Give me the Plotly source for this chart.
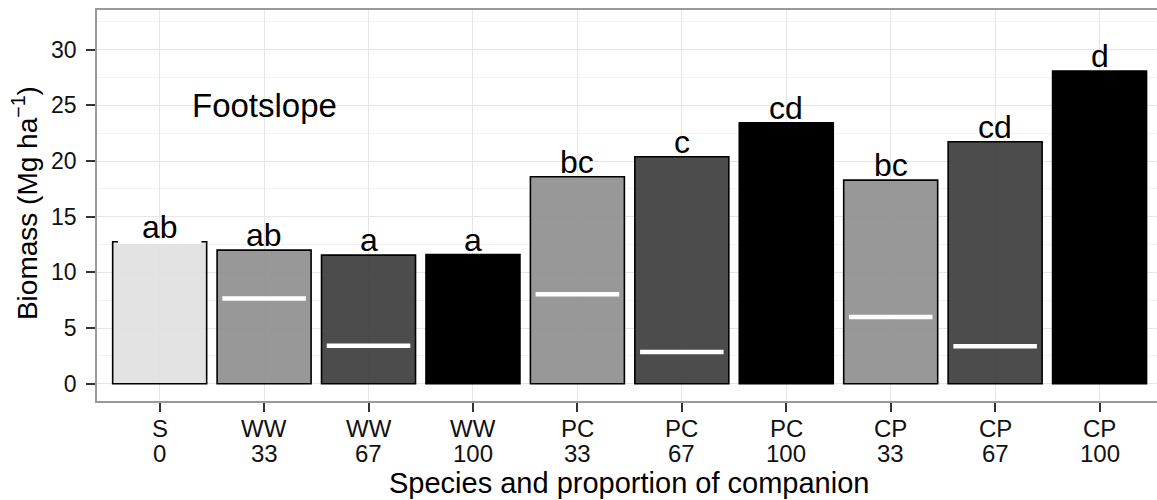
import plotly.graph_objects as go

# ---- data ----
species = ["S", "WW", "WW", "WW", "PC", "PC", "PC", "CP", "CP", "CP"]
proportion = [0, 33, 67, 100, 33, 67, 100, 33, 67, 100]
biomass = [12.75, 12.0, 11.55, 11.6, 18.58, 20.38, 23.43, 18.28, 21.73, 28.08]
sown_biomass = [12.75, 7.65, 3.4, None, 8.04, 2.86, None, 6.0, 3.37, None]
letters = ["ab", "ab", "a", "a", "bc", "c", "cd", "bc", "cd", "d"]
panel_label = "Footslope"
y_ticks = [0, 5, 10, 15, 20, 25, 30]

# ---- styles ----
fill_by_prop = {0: "rgba(224,224,224,0.9)", 33: "rgba(141,141,141,0.9)",
                67: "rgba(57,57,57,0.9)", 100: "rgba(0,0,0,1)"}
FONT = "Liberation Sans, Arial, sans-serif"
TICK_FONT = dict(family=FONT, size=23, color="#111111")
XTICK_FONT = dict(family=FONT, size=24, color="#111111")

idx = list(range(len(species)))

fig = go.Figure()
fig.add_trace(go.Bar(
    x=idx, y=biomass, width=0.9,
    marker=dict(color=[fill_by_prop[p] for p in proportion],
                line=dict(color="black", width=1.6)),
    showlegend=False, hoverinfo="skip"))

# white segments for sown-species share
wx, wy = [], []
for i, v in zip(idx, sown_biomass):
    if v is None:
        continue
    wx += [i - 0.4, i + 0.4, None]
    wy += [v, v, None]
fig.add_trace(go.Scatter(x=wx, y=wy, mode="lines",
                         line=dict(color="white", width=4.5),
                         showlegend=False, hoverinfo="skip"))

annotations = []
for i, v, t in zip(idx, biomass, letters):
    annotations.append(dict(x=i, y=v, text=t, showarrow=False, xref="x", yref="y",
                            yanchor="bottom", yshift=-5,
                            font=dict(family=FONT, size=32, color="black")))
# two-row category labels
for i, s, p in zip(idx, species, proportion):
    annotations.append(dict(x=i, y=-0.068, xref="x", yref="paper", text=s, showarrow=False,
                            yanchor="middle", borderpad=0, height=24, font=XTICK_FONT))
    annotations.append(dict(x=i, y=-0.1335, xref="x", yref="paper", text=str(p), showarrow=False,
                            yanchor="middle", borderpad=0, height=24, font=XTICK_FONT))
annotations.append(dict(x=0.502, y=-0.209, xref="paper", yref="paper",
                        text="Species and proportion of companion", showarrow=False,
                        yanchor="middle", borderpad=0,
                        font=dict(family=FONT, size=29, color="black")))
annotations.append(dict(x=1, y=25, text=panel_label, showarrow=False, xref="x", yref="y",
                        yanchor="middle", font=dict(family=FONT, size=33, color="black")))
annotations.append(dict(x=-0.068, y=0.506, xref="paper", yref="paper",
                        text="Biomass (Mg ha<sup>−1</sup>)", showarrow=False, textangle=-90,
                        xanchor="center", yanchor="middle",
                        font=dict(family=FONT, size=28, color="black")))

fig.update_layout(
    width=1157, height=500,
    margin=dict(l=97, r=0, t=10, b=99),
    paper_bgcolor="white", plot_bgcolor="white",
    annotations=annotations,
    font=dict(family=FONT, color="black"),
    xaxis=dict(range=[-0.6, 9.55], tickmode="array", tickvals=idx, showticklabels=False,
               showgrid=True, gridcolor="#e6e6e6", gridwidth=1.2, zeroline=False,
               showline=True, linecolor="#9a9a9a", linewidth=1.5, mirror=True,
               ticks="outside", ticklen=9, tickwidth=1.8, tickcolor="#333333"),
    yaxis=dict(range=[-1.55, 33.56], tickmode="array", tickvals=y_ticks,
               showgrid=True, gridcolor="#e6e6e6", gridwidth=1.2, zeroline=False,
               minor=dict(dtick=2.5, tick0=0, showgrid=True, gridcolor="#f3f3f3", gridwidth=1.2),
               showline=True, linecolor="#9a9a9a", linewidth=1.5,
               ticks="outside", ticklen=9, tickwidth=1.8, tickcolor="#333333",
               ticklabelstandoff=5, tickfont=TICK_FONT),
    bargap=0.1,
)

fig.write_html("out.html", config={"displayModeBar": False},
               post_script="document.body.style.margin='0';document.body.style.padding='0';")
